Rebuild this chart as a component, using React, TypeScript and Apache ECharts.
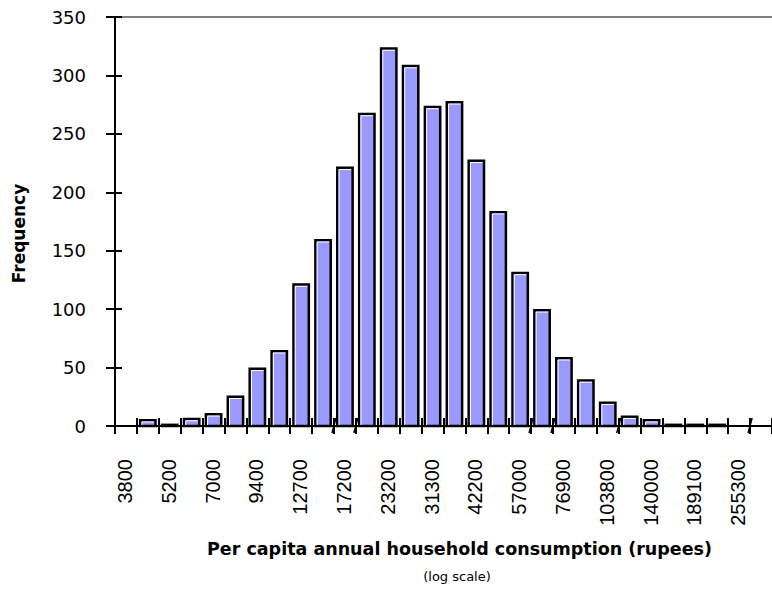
import React, { useEffect, useRef } from 'react';
import * as echarts from 'echarts';

// Bin boundary labels (every second boundary)
const binLabels = ['3800', '5200', '7000', '9400', '12700', '17200', '23200', '31300', '42200', '57000', '76900', '103800', '140000', '189100', '255300'];
// Frequency per bin (30 bins)
const frequencies = [0, 5, 1, 6, 10, 25, 49, 64, 121, 159, 221, 267, 323, 308, 273, 277, 227, 183, 131, 99, 58, 39, 20, 8, 5, 1, 1, 1, 0, 0];
// Boundaries drawn with slanted tick marks in the original
const slashTicks = [10, 11, 19, 20, 23, 29];
const yMin = 0;
const yMax = 350;
const yStep = 50;

const xTitle = 'Per capita annual household consumption (rupees)';
const xSubTitle = '(log scale)';
const yTitle = 'Frequency';

export default function App() {
  const ref = useRef<HTMLDivElement>(null);
  useEffect(() => {
    document.body.style.margin = '0';
    const chart = echarts.init(ref.current!, null, { renderer: 'svg' });
    const nBins = frequencies.length;
    const xCommon = { type: 'value', min: 0, max: nBins, interval: 1, splitLine: { show: false } };
    const yCommon = { type: 'value', min: yMin, max: yMax, interval: yStep, splitLine: { show: false } };
    const black = '#000';
    chart.setOption({
      animation: false,
      grid: { left: 115, top: 17, right: -1, bottom: 166 },
      xAxis: [
        {
          ...xCommon,
          position: 'bottom',
          axisLine: { show: true, lineStyle: { color: black, width: 2 } },
          axisTick: { show: true, inside: false, length: 8, lineStyle: { color: black, width: 2 } },
          axisLabel: {
            rotate: 90,
            margin: 33,
            verticalAlign: 'top',
            fontFamily: '"Liberation Sans", Arial, sans-serif',
            fontSize: 20,
            color: black,
            formatter: (v: number) => {
              const i = Math.round(v);
              return i % 2 === 0 && binLabels[i / 2] ? binLabels[i / 2] : '';
            },
          },
          name: xTitle,
          nameLocation: 'middle',
          nameGap: 114,
          nameTextStyle: {
            fontFamily: 'DejaVu Sans',
            fontWeight: 'bold',
            fontSize: 17.5,
            color: black,
            padding: [0, 0, 0, 32],
          },
        },
        {
          ...xCommon,
          position: 'bottom',
          axisLine: { show: false },
          axisTick: { show: true, inside: true, length: 8, lineStyle: { color: black, width: 2 } },
          axisLabel: { show: false },
        },
        {
          ...xCommon,
          position: 'top',
          axisLine: { show: true, lineStyle: { color: '#808080', width: 2 } },
          axisTick: { show: false },
          axisLabel: { show: false },
        },
      ],
      yAxis: [
        {
          ...yCommon,
          position: 'left',
          axisLine: { show: true, lineStyle: { color: black, width: 2 } },
          axisTick: { show: true, inside: false, length: 9, lineStyle: { color: black, width: 2 } },
          axisLabel: { margin: 29, fontFamily: 'DejaVu Sans', fontSize: 18, color: black },
          name: yTitle,
          nameLocation: 'middle',
          nameGap: 88,
          nameTextStyle: {
            fontFamily: 'DejaVu Sans',
            fontWeight: 'bold',
            fontSize: 17,
            color: black,
            padding: [0, 24, 0, 0],
          },
        },
        {
          ...yCommon,
          position: 'left',
          axisLine: { show: false },
          axisTick: { show: true, inside: true, length: 7, lineStyle: { color: black, width: 2 } },
          axisLabel: { show: false },
        },
      ],
      graphic: [
        {
          type: 'text',
          x: 457,
          y: 576,
          style: {
            text: xSubTitle,
            fontFamily: 'DejaVu Sans',
            fontSize: 13,
            fill: black,
            align: 'center',
            verticalAlign: 'middle',
            textAlign: 'center',
            textVerticalAlign: 'middle',
          },
        },
      ],
      series: [
        {
          type: 'custom',
          xAxisIndex: 0,
          yAxisIndex: 0,
          data: frequencies.map((v, i) => [i, v]),
          encode: { x: 0, y: 1 },
          renderItem: (params: any, api: any) => {
            const i = api.value(0);
            const v = api.value(1);
            if (!v) return null;
            const base = api.coord([i, 0]);
            const tip = api.coord([i + 1, v]);
            const bandW = tip[0] - base[0];
            const w = bandW * 0.7;
            const x = base[0] + (bandW - w) / 2;
            const yTop = tip[1];
            const yBot = base[1];
            const h = yBot - yTop;
            const children: any[] = [
              {
                type: 'rect',
                shape: { x, y: yTop, width: w, height: h },
                style: { fill: '#9999FF', stroke: black, lineWidth: 2.5 },
              },
            ];
            if (h > 4) {
              children.push({
                type: 'polyline',
                shape: { points: [[x + 1.75, yBot - 1], [x + 1.75, yTop + 1.75], [x + w - 1.5, yTop + 1.75]] },
                style: { stroke: '#fff', lineWidth: 1, fill: null },
              });
            }
            return { type: 'group', children };
          },
        },
        {
          type: 'custom',
          xAxisIndex: 0,
          yAxisIndex: 0,
          data: slashTicks.map((t) => [t, 0]),
          encode: { x: 0, y: 1 },
          renderItem: (params: any, api: any) => {
            const p = api.coord([api.value(0), 0]);
            return {
              type: 'line',
              shape: { x1: p[0] - 2, y1: p[1] + 7, x2: p[0] + 2, y2: p[1] - 8 },
              style: { stroke: black, lineWidth: 1.5 },
            };
          },
        },
      ],
    });
    return () => chart.dispose();
  }, []);
  return <div ref={ref} style={{ width: 772, height: 592 }} />;
}
